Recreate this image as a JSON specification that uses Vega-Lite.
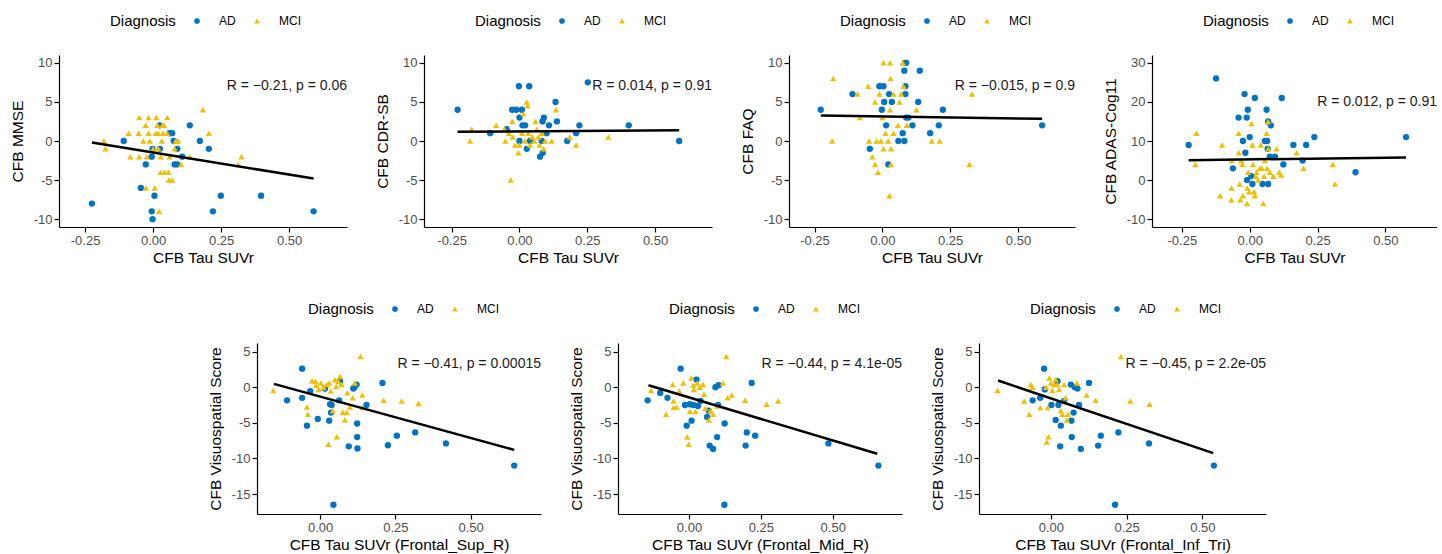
{
"$schema":"https://vega.github.io/schema/vega-lite/v6.json",
"padding":{"left":10,"top":15,"right":0,"bottom":0},
"config":{
 "font":"Liberation Sans",
 "view":{"stroke":null},
 "locale":{"number":{"decimal":".","thousands":",","grouping":[3],"currency":["$",""],"minus":"-"}},
 "axis":{"grid":false,"domainColor":"#000000","domainWidth":1.2,"tickColor":"#000000","tickWidth":1.2,"tickSize":5,"labelFontSize":13,"labelColor":"#4D4D4D","labelPadding":2,"titleFontSize":15.5,"titleFontWeight":"normal","titleColor":"#000000","titlePadding":3},
 "axisY":{"titlePadding":8},
 "legend":{"titleFontSize":15,"titleFontWeight":"normal","titleColor":"#000000","labelFontSize":12,"labelColor":"#000000","symbolSize":32,"labelOffset":16,"columnPadding":15,"titlePadding":15,"symbolStrokeWidth":0}
},
"datasets":{
"p1":[
{"x":-0.225,"y":-8,"Diagnosis":"AD"},{"x":-0.108,"y":0,"Diagnosis":"AD"},{"x":-0.027,"y":-3,"Diagnosis":"AD"},{"x":-0.045,"y":-6,"Diagnosis":"AD"},{"x":-0.005,"y":-2,"Diagnosis":"AD"},{"x":-0.002,"y":-1,"Diagnosis":"AD"},{"x":0.005,"y":-7,"Diagnosis":"AD"},{"x":-0.005,"y":-9,"Diagnosis":"AD"},{"x":-0.002,"y":-10,"Diagnosis":"AD"},{"x":0.024,"y":2,"Diagnosis":"AD"},{"x":0.025,"y":-1,"Diagnosis":"AD"},{"x":0.06,"y":1,"Diagnosis":"AD"},{"x":0.07,"y":1,"Diagnosis":"AD"},{"x":0.076,"y":0,"Diagnosis":"AD"},{"x":0.079,"y":-3,"Diagnosis":"AD"},{"x":0.089,"y":-3,"Diagnosis":"AD"},{"x":0.107,"y":-2,"Diagnosis":"AD"},{"x":0.135,"y":2,"Diagnosis":"AD"},{"x":0.172,"y":0,"Diagnosis":"AD"},{"x":0.205,"y":-1,"Diagnosis":"AD"},{"x":0.22,"y":-9,"Diagnosis":"AD"},{"x":0.249,"y":-7,"Diagnosis":"AD"},{"x":0.397,"y":-7,"Diagnosis":"AD"},{"x":0.59,"y":-9,"Diagnosis":"AD"},{"x":0.089,"y":-1,"Diagnosis":"AD"},
{"x":-0.181,"y":0,"Diagnosis":"MCI"},{"x":-0.175,"y":-1,"Diagnosis":"MCI"},{"x":-0.09,"y":1,"Diagnosis":"MCI"},{"x":-0.084,"y":-2,"Diagnosis":"MCI"},{"x":-0.051,"y":3,"Diagnosis":"MCI"},{"x":-0.053,"y":1,"Diagnosis":"MCI"},{"x":-0.051,"y":-2,"Diagnosis":"MCI"},{"x":-0.036,"y":0,"Diagnosis":"MCI"},{"x":-0.027,"y":2,"Diagnosis":"MCI"},{"x":-0.023,"y":-2,"Diagnosis":"MCI"},{"x":-0.027,"y":-6,"Diagnosis":"MCI"},{"x":-0.017,"y":3,"Diagnosis":"MCI"},{"x":-0.017,"y":1,"Diagnosis":"MCI"},{"x":-0.012,"y":0,"Diagnosis":"MCI"},{"x":0,"y":-1,"Diagnosis":"MCI"},{"x":0.006,"y":-6,"Diagnosis":"MCI"},{"x":0.012,"y":3,"Diagnosis":"MCI"},{"x":0.01,"y":1,"Diagnosis":"MCI"},{"x":0.016,"y":2,"Diagnosis":"MCI"},{"x":0.019,"y":1,"Diagnosis":"MCI"},{"x":0.019,"y":-1,"Diagnosis":"MCI"},{"x":0.022,"y":-9,"Diagnosis":"MCI"},{"x":0.028,"y":-2,"Diagnosis":"MCI"},{"x":0.028,"y":-4,"Diagnosis":"MCI"},{"x":0.032,"y":0,"Diagnosis":"MCI"},{"x":0.034,"y":2,"Diagnosis":"MCI"},{"x":0.036,"y":1,"Diagnosis":"MCI"},{"x":0.04,"y":2,"Diagnosis":"MCI"},{"x":0.042,"y":-4,"Diagnosis":"MCI"},{"x":0.052,"y":3,"Diagnosis":"MCI"},{"x":0.052,"y":1,"Diagnosis":"MCI"},{"x":0.056,"y":-4,"Diagnosis":"MCI"},{"x":0.061,"y":-2,"Diagnosis":"MCI"},{"x":0.058,"y":-5,"Diagnosis":"MCI"},{"x":0.07,"y":-5,"Diagnosis":"MCI"},{"x":0.079,"y":-1,"Diagnosis":"MCI"},{"x":0.083,"y":0,"Diagnosis":"MCI"},{"x":0.092,"y":0,"Diagnosis":"MCI"},{"x":0.103,"y":-3,"Diagnosis":"MCI"},{"x":0.135,"y":-2,"Diagnosis":"MCI"},{"x":0.183,"y":4,"Diagnosis":"MCI"},{"x":0.205,"y":1,"Diagnosis":"MCI"},{"x":0.313,"y":-3,"Diagnosis":"MCI"},{"x":0.325,"y":-2,"Diagnosis":"MCI"}
],
"p2":[
{"x":-0.228,"y":4,"Diagnosis":"AD"},{"x":-0.108,"y":1,"Diagnosis":"AD"},{"x":-0.047,"y":1.5,"Diagnosis":"AD"},{"x":-0.027,"y":4,"Diagnosis":"AD"},{"x":-0.012,"y":4,"Diagnosis":"AD"},{"x":-0.002,"y":7,"Diagnosis":"AD"},{"x":0,"y":3,"Diagnosis":"AD"},{"x":0,"y":0,"Diagnosis":"AD"},{"x":0.009,"y":4,"Diagnosis":"AD"},{"x":0.011,"y":2,"Diagnosis":"AD"},{"x":0.021,"y":2,"Diagnosis":"AD"},{"x":0.027,"y":-1,"Diagnosis":"AD"},{"x":0.036,"y":7,"Diagnosis":"AD"},{"x":0.039,"y":0,"Diagnosis":"AD"},{"x":0.082,"y":0,"Diagnosis":"AD"},{"x":0.076,"y":-2,"Diagnosis":"AD"},{"x":0.086,"y":-1.5,"Diagnosis":"AD"},{"x":0.085,"y":2.5,"Diagnosis":"AD"},{"x":0.09,"y":3,"Diagnosis":"AD"},{"x":0.109,"y":2,"Diagnosis":"AD"},{"x":0.133,"y":5,"Diagnosis":"AD"},{"x":0.138,"y":2.5,"Diagnosis":"AD"},{"x":0.176,"y":0,"Diagnosis":"AD"},{"x":0.209,"y":1,"Diagnosis":"AD"},{"x":0.221,"y":2,"Diagnosis":"AD"},{"x":0.252,"y":7.5,"Diagnosis":"AD"},{"x":0.403,"y":2,"Diagnosis":"AD"},{"x":0.589,"y":0,"Diagnosis":"AD"},{"x":0.1,"y":1,"Diagnosis":"AD"},
{"x":-0.182,"y":0,"Diagnosis":"MCI"},{"x":-0.176,"y":1.5,"Diagnosis":"MCI"},{"x":-0.086,"y":2,"Diagnosis":"MCI"},{"x":-0.055,"y":1.5,"Diagnosis":"MCI"},{"x":-0.052,"y":0,"Diagnosis":"MCI"},{"x":-0.039,"y":1,"Diagnosis":"MCI"},{"x":-0.032,"y":-5,"Diagnosis":"MCI"},{"x":-0.027,"y":2.5,"Diagnosis":"MCI"},{"x":-0.025,"y":0.5,"Diagnosis":"MCI"},{"x":-0.016,"y":-0.5,"Diagnosis":"MCI"},{"x":-0.004,"y":-1.5,"Diagnosis":"MCI"},{"x":0,"y":-0.5,"Diagnosis":"MCI"},{"x":0.01,"y":1,"Diagnosis":"MCI"},{"x":0.015,"y":3.5,"Diagnosis":"MCI"},{"x":0.021,"y":0,"Diagnosis":"MCI"},{"x":0.027,"y":5,"Diagnosis":"MCI"},{"x":0.03,"y":4.5,"Diagnosis":"MCI"},{"x":0.033,"y":1,"Diagnosis":"MCI"},{"x":0.039,"y":-0.5,"Diagnosis":"MCI"},{"x":0.047,"y":0.5,"Diagnosis":"MCI"},{"x":0.054,"y":0,"Diagnosis":"MCI"},{"x":0.059,"y":2.5,"Diagnosis":"MCI"},{"x":0.064,"y":1.5,"Diagnosis":"MCI"},{"x":0.07,"y":0.5,"Diagnosis":"MCI"},{"x":0.074,"y":-0.5,"Diagnosis":"MCI"},{"x":0.082,"y":1,"Diagnosis":"MCI"},{"x":0.089,"y":-1,"Diagnosis":"MCI"},{"x":0.095,"y":0,"Diagnosis":"MCI"},{"x":0.119,"y":0,"Diagnosis":"MCI"},{"x":0.135,"y":4,"Diagnosis":"MCI"},{"x":0.185,"y":0.5,"Diagnosis":"MCI"},{"x":0.209,"y":-0.5,"Diagnosis":"MCI"},{"x":0.328,"y":0.5,"Diagnosis":"MCI"}
],
"p3":[
{"x":-0.227,"y":4,"Diagnosis":"AD"},{"x":-0.11,"y":6,"Diagnosis":"AD"},{"x":-0.046,"y":-1,"Diagnosis":"AD"},{"x":-0.011,"y":7,"Diagnosis":"AD"},{"x":-0.002,"y":4,"Diagnosis":"AD"},{"x":0.004,"y":7,"Diagnosis":"AD"},{"x":0.007,"y":5,"Diagnosis":"AD"},{"x":0.014,"y":2,"Diagnosis":"AD"},{"x":0.025,"y":6,"Diagnosis":"AD"},{"x":0.022,"y":-3,"Diagnosis":"AD"},{"x":0.035,"y":5,"Diagnosis":"AD"},{"x":0.059,"y":0,"Diagnosis":"AD"},{"x":0.075,"y":1,"Diagnosis":"AD"},{"x":0.081,"y":0,"Diagnosis":"AD"},{"x":0.081,"y":9,"Diagnosis":"AD"},{"x":0.084,"y":10,"Diagnosis":"AD"},{"x":0.088,"y":10,"Diagnosis":"AD"},{"x":0.085,"y":7,"Diagnosis":"AD"},{"x":0.085,"y":6,"Diagnosis":"AD"},{"x":0.088,"y":3,"Diagnosis":"AD"},{"x":0.096,"y":3,"Diagnosis":"AD"},{"x":0.111,"y":2,"Diagnosis":"AD"},{"x":0.132,"y":5,"Diagnosis":"AD"},{"x":0.138,"y":9,"Diagnosis":"AD"},{"x":0.176,"y":1,"Diagnosis":"AD"},{"x":0.208,"y":2,"Diagnosis":"AD"},{"x":0.223,"y":4,"Diagnosis":"AD"},{"x":0.589,"y":2,"Diagnosis":"AD"},
{"x":-0.181,"y":8,"Diagnosis":"MCI"},{"x":-0.185,"y":0,"Diagnosis":"MCI"},{"x":-0.092,"y":6,"Diagnosis":"MCI"},{"x":-0.083,"y":3,"Diagnosis":"MCI"},{"x":-0.052,"y":7,"Diagnosis":"MCI"},{"x":-0.049,"y":0,"Diagnosis":"MCI"},{"x":-0.037,"y":-2,"Diagnosis":"MCI"},{"x":-0.027,"y":-3,"Diagnosis":"MCI"},{"x":-0.027,"y":5,"Diagnosis":"MCI"},{"x":-0.021,"y":0,"Diagnosis":"MCI"},{"x":-0.016,"y":-4,"Diagnosis":"MCI"},{"x":-0.011,"y":6,"Diagnosis":"MCI"},{"x":-0.005,"y":0,"Diagnosis":"MCI"},{"x":0,"y":3,"Diagnosis":"MCI"},{"x":0.004,"y":10,"Diagnosis":"MCI"},{"x":0.004,"y":-1,"Diagnosis":"MCI"},{"x":0.012,"y":1,"Diagnosis":"MCI"},{"x":0.021,"y":0,"Diagnosis":"MCI"},{"x":0.028,"y":10,"Diagnosis":"MCI"},{"x":0.03,"y":8,"Diagnosis":"MCI"},{"x":0.028,"y":4,"Diagnosis":"MCI"},{"x":0.026,"y":-7,"Diagnosis":"MCI"},{"x":0.032,"y":-1,"Diagnosis":"MCI"},{"x":0.032,"y":-3,"Diagnosis":"MCI"},{"x":0.041,"y":1,"Diagnosis":"MCI"},{"x":0.041,"y":6,"Diagnosis":"MCI"},{"x":0.057,"y":2,"Diagnosis":"MCI"},{"x":0.063,"y":5,"Diagnosis":"MCI"},{"x":0.069,"y":6,"Diagnosis":"MCI"},{"x":0.075,"y":10,"Diagnosis":"MCI"},{"x":0.078,"y":7,"Diagnosis":"MCI"},{"x":0.09,"y":2,"Diagnosis":"MCI"},{"x":0.125,"y":4,"Diagnosis":"MCI"},{"x":0.182,"y":0,"Diagnosis":"MCI"},{"x":0.211,"y":0,"Diagnosis":"MCI"},{"x":0.321,"y":-3,"Diagnosis":"MCI"},{"x":0.33,"y":6,"Diagnosis":"MCI"}
],
"p4":[
{"x":-0.225,"y":9,"Diagnosis":"AD"},{"x":-0.124,"y":26,"Diagnosis":"AD"},{"x":-0.062,"y":3,"Diagnosis":"AD"},{"x":-0.041,"y":16,"Diagnosis":"AD"},{"x":-0.025,"y":10,"Diagnosis":"AD"},{"x":-0.019,"y":22,"Diagnosis":"AD"},{"x":-0.016,"y":7,"Diagnosis":"AD"},{"x":-0.011,"y":16,"Diagnosis":"AD"},{"x":-0.01,"y":0,"Diagnosis":"AD"},{"x":-0.007,"y":18,"Diagnosis":"AD"},{"x":0,"y":11,"Diagnosis":"AD"},{"x":0.006,"y":1,"Diagnosis":"AD"},{"x":0.01,"y":-1,"Diagnosis":"AD"},{"x":0.019,"y":21,"Diagnosis":"AD"},{"x":0.047,"y":-1,"Diagnosis":"AD"},{"x":0.056,"y":10,"Diagnosis":"AD"},{"x":0.062,"y":18,"Diagnosis":"AD"},{"x":0.064,"y":10,"Diagnosis":"AD"},{"x":0.066,"y":8,"Diagnosis":"AD"},{"x":0.068,"y":-1,"Diagnosis":"AD"},{"x":0.068,"y":15,"Diagnosis":"AD"},{"x":0.074,"y":6,"Diagnosis":"AD"},{"x":0.078,"y":14,"Diagnosis":"AD"},{"x":0.093,"y":6,"Diagnosis":"AD"},{"x":0.118,"y":21,"Diagnosis":"AD"},{"x":0.124,"y":4,"Diagnosis":"AD"},{"x":0.161,"y":9,"Diagnosis":"AD"},{"x":0.195,"y":5,"Diagnosis":"AD"},{"x":0.208,"y":9,"Diagnosis":"AD"},{"x":0.238,"y":11,"Diagnosis":"AD"},{"x":0.39,"y":2,"Diagnosis":"AD"},{"x":0.576,"y":11,"Diagnosis":"AD"},
{"x":-0.196,"y":12,"Diagnosis":"MCI"},{"x":-0.2,"y":4,"Diagnosis":"MCI"},{"x":-0.109,"y":-4,"Diagnosis":"MCI"},{"x":-0.102,"y":9,"Diagnosis":"MCI"},{"x":-0.068,"y":-5,"Diagnosis":"MCI"},{"x":-0.067,"y":5,"Diagnosis":"MCI"},{"x":-0.067,"y":-2,"Diagnosis":"MCI"},{"x":-0.041,"y":12,"Diagnosis":"MCI"},{"x":-0.04,"y":7,"Diagnosis":"MCI"},{"x":-0.037,"y":-1,"Diagnosis":"MCI"},{"x":-0.035,"y":-5,"Diagnosis":"MCI"},{"x":-0.031,"y":5,"Diagnosis":"MCI"},{"x":-0.027,"y":4,"Diagnosis":"MCI"},{"x":-0.025,"y":-4,"Diagnosis":"MCI"},{"x":-0.01,"y":-6,"Diagnosis":"MCI"},{"x":-0.009,"y":-2,"Diagnosis":"MCI"},{"x":-0.006,"y":2,"Diagnosis":"MCI"},{"x":-0.002,"y":-3,"Diagnosis":"MCI"},{"x":0.006,"y":14.5,"Diagnosis":"MCI"},{"x":0.01,"y":9,"Diagnosis":"MCI"},{"x":0.012,"y":4,"Diagnosis":"MCI"},{"x":0.016,"y":-3,"Diagnosis":"MCI"},{"x":0.019,"y":-4,"Diagnosis":"MCI"},{"x":0.022,"y":1,"Diagnosis":"MCI"},{"x":0.025,"y":2,"Diagnosis":"MCI"},{"x":0.031,"y":0,"Diagnosis":"MCI"},{"x":0.037,"y":3,"Diagnosis":"MCI"},{"x":0.041,"y":9,"Diagnosis":"MCI"},{"x":0.045,"y":3,"Diagnosis":"MCI"},{"x":0.05,"y":-6,"Diagnosis":"MCI"},{"x":0.053,"y":1,"Diagnosis":"MCI"},{"x":0.056,"y":5,"Diagnosis":"MCI"},{"x":0.062,"y":12,"Diagnosis":"MCI"},{"x":0.064,"y":3,"Diagnosis":"MCI"},{"x":0.068,"y":8,"Diagnosis":"MCI"},{"x":0.068,"y":15,"Diagnosis":"MCI"},{"x":0.074,"y":2,"Diagnosis":"MCI"},{"x":0.087,"y":1,"Diagnosis":"MCI"},{"x":0.099,"y":8,"Diagnosis":"MCI"},{"x":0.109,"y":2,"Diagnosis":"MCI"},{"x":0.116,"y":1.3,"Diagnosis":"MCI"},{"x":0.173,"y":7,"Diagnosis":"MCI"},{"x":0.198,"y":3,"Diagnosis":"MCI"},{"x":0.306,"y":4,"Diagnosis":"MCI"},{"x":0.314,"y":-1,"Diagnosis":"MCI"}
],
"p5":[
{"x":-0.11,"y":-1.85,"Diagnosis":"AD"},{"x":-0.06,"y":2.6,"Diagnosis":"AD"},{"x":-0.06,"y":-1.5,"Diagnosis":"AD"},{"x":-0.044,"y":-5.4,"Diagnosis":"AD"},{"x":-0.033,"y":-0.55,"Diagnosis":"AD"},{"x":-0.008,"y":-4.45,"Diagnosis":"AD"},{"x":0.016,"y":-0.2,"Diagnosis":"AD"},{"x":0.03,"y":-4.7,"Diagnosis":"AD"},{"x":0.033,"y":-2.4,"Diagnosis":"AD"},{"x":0.036,"y":-3.56,"Diagnosis":"AD"},{"x":0.038,"y":-2.5,"Diagnosis":"AD"},{"x":0.044,"y":-16.5,"Diagnosis":"AD"},{"x":0.063,"y":-1.85,"Diagnosis":"AD"},{"x":0.066,"y":0.83,"Diagnosis":"AD"},{"x":0.095,"y":-8.3,"Diagnosis":"AD"},{"x":0.11,"y":-0.2,"Diagnosis":"AD"},{"x":0.114,"y":0,"Diagnosis":"AD"},{"x":0.121,"y":0.37,"Diagnosis":"AD"},{"x":0.123,"y":-5.1,"Diagnosis":"AD"},{"x":0.123,"y":-7.0,"Diagnosis":"AD"},{"x":0.124,"y":-8.6,"Diagnosis":"AD"},{"x":0.154,"y":-2.5,"Diagnosis":"AD"},{"x":0.207,"y":0.6,"Diagnosis":"AD"},{"x":0.225,"y":-8.15,"Diagnosis":"AD"},{"x":0.255,"y":-6.8,"Diagnosis":"AD"},{"x":0.316,"y":-6.35,"Diagnosis":"AD"},{"x":0.418,"y":-7.9,"Diagnosis":"AD"},{"x":0.645,"y":-11.0,"Diagnosis":"AD"},
{"x":-0.156,"y":-0.46,"Diagnosis":"MCI"},{"x":-0.044,"y":-2.8,"Diagnosis":"MCI"},{"x":-0.041,"y":-3.8,"Diagnosis":"MCI"},{"x":-0.016,"y":0.83,"Diagnosis":"MCI"},{"x":-0.013,"y":0.28,"Diagnosis":"MCI"},{"x":-0.005,"y":-0.32,"Diagnosis":"MCI"},{"x":0.002,"y":0.6,"Diagnosis":"MCI"},{"x":0.011,"y":0,"Diagnosis":"MCI"},{"x":0.022,"y":0.37,"Diagnosis":"MCI"},{"x":0.027,"y":-8.0,"Diagnosis":"MCI"},{"x":0.03,"y":0.6,"Diagnosis":"MCI"},{"x":0.035,"y":-0.55,"Diagnosis":"MCI"},{"x":0.042,"y":-3.3,"Diagnosis":"MCI"},{"x":0.049,"y":1.06,"Diagnosis":"MCI"},{"x":0.053,"y":0.14,"Diagnosis":"MCI"},{"x":0.055,"y":-6.95,"Diagnosis":"MCI"},{"x":0.06,"y":0.83,"Diagnosis":"MCI"},{"x":0.066,"y":1.5,"Diagnosis":"MCI"},{"x":0.071,"y":0.37,"Diagnosis":"MCI"},{"x":0.075,"y":-3.56,"Diagnosis":"MCI"},{"x":0.082,"y":-4.6,"Diagnosis":"MCI"},{"x":0.088,"y":-3.56,"Diagnosis":"MCI"},{"x":0.09,"y":-0.8,"Diagnosis":"MCI"},{"x":0.099,"y":-2.8,"Diagnosis":"MCI"},{"x":0.108,"y":-1.5,"Diagnosis":"MCI"},{"x":0.115,"y":0.6,"Diagnosis":"MCI"},{"x":0.134,"y":4.3,"Diagnosis":"MCI"},{"x":0.14,"y":-1.1,"Diagnosis":"MCI"},{"x":0.141,"y":-2.87,"Diagnosis":"MCI"},{"x":0.211,"y":-1.85,"Diagnosis":"MCI"},{"x":0.271,"y":-1.94,"Diagnosis":"MCI"},{"x":0.327,"y":-2.3,"Diagnosis":"MCI"},{"x":-0.027,"y":0.9,"Diagnosis":"MCI"}
],
"p6":[
{"x":-0.144,"y":-1.85,"Diagnosis":"AD"},{"x":-0.1,"y":-0.8,"Diagnosis":"AD"},{"x":-0.075,"y":-1.5,"Diagnosis":"AD"},{"x":-0.029,"y":2.6,"Diagnosis":"AD"},{"x":-0.014,"y":-2.5,"Diagnosis":"AD"},{"x":-0.008,"y":-5.4,"Diagnosis":"AD"},{"x":0.003,"y":-2.4,"Diagnosis":"AD"},{"x":0.009,"y":-4.7,"Diagnosis":"AD"},{"x":0.015,"y":-2.5,"Diagnosis":"AD"},{"x":0.026,"y":1.06,"Diagnosis":"AD"},{"x":0.031,"y":-2.64,"Diagnosis":"AD"},{"x":0.04,"y":-1.94,"Diagnosis":"AD"},{"x":0.063,"y":-4.17,"Diagnosis":"AD"},{"x":0.072,"y":-8.2,"Diagnosis":"AD"},{"x":0.084,"y":-8.66,"Diagnosis":"AD"},{"x":0.092,"y":0,"Diagnosis":"AD"},{"x":0.098,"y":-7.0,"Diagnosis":"AD"},{"x":0.101,"y":-2.5,"Diagnosis":"AD"},{"x":0.103,"y":0.28,"Diagnosis":"AD"},{"x":0.124,"y":-5.1,"Diagnosis":"AD"},{"x":0.123,"y":-16.5,"Diagnosis":"AD"},{"x":0.197,"y":-8.2,"Diagnosis":"AD"},{"x":0.201,"y":-6.35,"Diagnosis":"AD"},{"x":0.218,"y":0.6,"Diagnosis":"AD"},{"x":0.23,"y":-6.8,"Diagnosis":"AD"},{"x":0.485,"y":-7.9,"Diagnosis":"AD"},{"x":0.659,"y":-11.0,"Diagnosis":"AD"},{"x":0.069,"y":-3.3,"Diagnosis":"AD"},
{"x":-0.132,"y":-0.46,"Diagnosis":"MCI"},{"x":-0.08,"y":-3.8,"Diagnosis":"MCI"},{"x":-0.057,"y":0.37,"Diagnosis":"MCI"},{"x":-0.054,"y":-1.94,"Diagnosis":"MCI"},{"x":-0.054,"y":-2.87,"Diagnosis":"MCI"},{"x":-0.043,"y":-2.8,"Diagnosis":"MCI"},{"x":-0.034,"y":-0.55,"Diagnosis":"MCI"},{"x":-0.02,"y":0.6,"Diagnosis":"MCI"},{"x":-0.006,"y":-7.0,"Diagnosis":"MCI"},{"x":-0.001,"y":-8.0,"Diagnosis":"MCI"},{"x":0.003,"y":-3.4,"Diagnosis":"MCI"},{"x":0.008,"y":1.3,"Diagnosis":"MCI"},{"x":0.015,"y":0.28,"Diagnosis":"MCI"},{"x":0.017,"y":-0.32,"Diagnosis":"MCI"},{"x":0.023,"y":-3.4,"Diagnosis":"MCI"},{"x":0.029,"y":0.6,"Diagnosis":"MCI"},{"x":0.037,"y":0,"Diagnosis":"MCI"},{"x":0.049,"y":0.37,"Diagnosis":"MCI"},{"x":0.052,"y":-1.0,"Diagnosis":"MCI"},{"x":0.057,"y":-2.96,"Diagnosis":"MCI"},{"x":0.069,"y":-4.6,"Diagnosis":"MCI"},{"x":0.075,"y":-3.3,"Diagnosis":"MCI"},{"x":0.084,"y":-3.8,"Diagnosis":"MCI"},{"x":0.098,"y":-2.64,"Diagnosis":"MCI"},{"x":0.118,"y":0.6,"Diagnosis":"MCI"},{"x":0.13,"y":4.3,"Diagnosis":"MCI"},{"x":0.134,"y":-1.5,"Diagnosis":"MCI"},{"x":0.149,"y":-1.1,"Diagnosis":"MCI"},{"x":0.195,"y":-1.85,"Diagnosis":"MCI"},{"x":0.27,"y":-2.4,"Diagnosis":"MCI"},{"x":0.31,"y":-1.94,"Diagnosis":"MCI"}
],
"p7":[
{"x":-0.06,"y":-1.85,"Diagnosis":"AD"},{"x":-0.022,"y":2.6,"Diagnosis":"AD"},{"x":-0.02,"y":-0.32,"Diagnosis":"AD"},{"x":-0.035,"y":-1.5,"Diagnosis":"AD"},{"x":0.002,"y":-2.5,"Diagnosis":"AD"},{"x":0.016,"y":-4.6,"Diagnosis":"AD"},{"x":0.022,"y":0.83,"Diagnosis":"AD"},{"x":0.025,"y":-2.5,"Diagnosis":"AD"},{"x":0.033,"y":-5.4,"Diagnosis":"AD"},{"x":0.031,"y":-8.3,"Diagnosis":"AD"},{"x":0.044,"y":-1.94,"Diagnosis":"AD"},{"x":0.066,"y":0.37,"Diagnosis":"AD"},{"x":0.068,"y":-4.7,"Diagnosis":"AD"},{"x":0.069,"y":-7.0,"Diagnosis":"AD"},{"x":0.075,"y":-3.56,"Diagnosis":"AD"},{"x":0.079,"y":0,"Diagnosis":"AD"},{"x":0.088,"y":-0.2,"Diagnosis":"AD"},{"x":0.093,"y":-2.5,"Diagnosis":"AD"},{"x":0.099,"y":-8.66,"Diagnosis":"AD"},{"x":0.126,"y":0.6,"Diagnosis":"AD"},{"x":0.156,"y":-8.2,"Diagnosis":"AD"},{"x":0.165,"y":-6.8,"Diagnosis":"AD"},{"x":0.212,"y":-16.5,"Diagnosis":"AD"},{"x":0.223,"y":-6.35,"Diagnosis":"AD"},{"x":0.324,"y":-7.9,"Diagnosis":"AD"},{"x":0.538,"y":-11.0,"Diagnosis":"AD"},
{"x":-0.176,"y":-0.46,"Diagnosis":"MCI"},{"x":-0.088,"y":-1.94,"Diagnosis":"MCI"},{"x":-0.071,"y":-3.8,"Diagnosis":"MCI"},{"x":-0.066,"y":0.37,"Diagnosis":"MCI"},{"x":-0.06,"y":0,"Diagnosis":"MCI"},{"x":-0.035,"y":-2.87,"Diagnosis":"MCI"},{"x":-0.016,"y":0,"Diagnosis":"MCI"},{"x":-0.013,"y":-7.7,"Diagnosis":"MCI"},{"x":-0.008,"y":-6.95,"Diagnosis":"MCI"},{"x":-0.011,"y":-2.87,"Diagnosis":"MCI"},{"x":-0.005,"y":1.3,"Diagnosis":"MCI"},{"x":0,"y":0.6,"Diagnosis":"MCI"},{"x":0.005,"y":-0.46,"Diagnosis":"MCI"},{"x":0.011,"y":0.37,"Diagnosis":"MCI"},{"x":0.016,"y":1.06,"Diagnosis":"MCI"},{"x":0.022,"y":0.37,"Diagnosis":"MCI"},{"x":0.027,"y":-0.32,"Diagnosis":"MCI"},{"x":0.033,"y":-3.3,"Diagnosis":"MCI"},{"x":0.038,"y":-3.8,"Diagnosis":"MCI"},{"x":0.044,"y":0.37,"Diagnosis":"MCI"},{"x":0.049,"y":-1.5,"Diagnosis":"MCI"},{"x":0.053,"y":-4.6,"Diagnosis":"MCI"},{"x":0.057,"y":-3.8,"Diagnosis":"MCI"},{"x":0.086,"y":0.6,"Diagnosis":"MCI"},{"x":0.118,"y":-1.1,"Diagnosis":"MCI"},{"x":0.148,"y":-1.85,"Diagnosis":"MCI"},{"x":0.231,"y":4.3,"Diagnosis":"MCI"},{"x":0.262,"y":-1.94,"Diagnosis":"MCI"},{"x":0.326,"y":-2.4,"Diagnosis":"MCI"}
],
"fits":[
{"panel":1,"x":-0.225,"y":-0.2},{"panel":1,"x":0.59,"y":-4.8},
{"panel":2,"x":-0.228,"y":1.19},{"panel":2,"x":0.589,"y":1.36},
{"panel":3,"x":-0.227,"y":3.26},{"panel":3,"x":0.589,"y":2.84},
{"panel":4,"x":-0.225,"y":5.1},{"panel":4,"x":0.576,"y":5.8},
{"panel":5,"x":-0.154,"y":0.46},{"panel":5,"x":0.645,"y":-8.8},
{"panel":6,"x":-0.141,"y":0.28},{"panel":6,"x":0.655,"y":-9.35},
{"panel":7,"x":-0.174,"y":0.93},{"panel":7,"x":0.536,"y":-9.26}
],
"stats":[
{"panel":1,"x":0.713,"y":7,"label":"R = −0.21, p = 0.06"},
{"panel":2,"x":0.71,"y":7,"label":"R = 0.014, p = 0.91"},
{"panel":3,"x":0.71,"y":7,"label":"R = −0.015, p = 0.9"},
{"panel":4,"x":0.69,"y":20,"label":"R = 0.012, p = 0.91"},
{"panel":5,"x":0.734,"y":3.3,"label":"R = −0.41, p = 0.00015"},
{"panel":6,"x":0.741,"y":3.3,"label":"R = −0.44, p = 4.1e-05"},
{"panel":7,"x":0.71,"y":3.3,"label":"R = −0.45, p = 2.2e-05"}
]
},
"spacing":37,
"resolve":{"scale":{"x":"independent","y":"independent","color":"independent","shape":"independent"},"axis":{"x":"independent","y":"independent"},"legend":{"color":"independent","shape":"independent"}},
"vconcat":[
{"spacing":28,
 "resolve":{"scale":{"x":"independent","y":"independent","color":"independent","shape":"independent"},"axis":{"x":"independent","y":"independent"},"legend":{"color":"independent","shape":"independent"}},
 "hconcat":[
{"width":288,"height":172,
 "encoding":{"x":{"field":"x","type":"quantitative","title":"CFB Tau SUVr","scale":{"domain":[-0.346,0.713],"nice":false,"zero":false},"axis":{"values":[-0.25,0,0.25,0.5],"format":".2f"}},
  "y":{"field":"y","type":"quantitative","title":"CFB MMSE","scale":{"domain":[-11,11],"nice":false,"zero":false},"axis":{"values":[-10,-5,0,5,10]}}},
 "layer":[
  {"data":{"name":"p1"},"mark":{"type":"point","filled":true,"opacity":1,"size":40},
   "encoding":{"color":{"field":"Diagnosis","type":"nominal","scale":{"domain":["AD","MCI"],"range":["#0073C2","#EFC000"]},"legend":{"orient":"none","legendX":51,"legendY":-40,"direction":"horizontal","title":"Diagnosis","titleOrient":"left"}},
    "shape":{"field":"Diagnosis","type":"nominal","scale":{"domain":["AD","MCI"],"range":["circle","triangle-up"]},"legend":{"orient":"none","legendX":51,"legendY":-40,"direction":"horizontal","title":"Diagnosis","titleOrient":"left"}}}},
  {"data":{"name":"fits"},"transform":[{"filter":"datum.panel == 1"}],"mark":{"type":"line","color":"#000000","strokeWidth":2.5},"encoding":{}},
  {"data":{"name":"stats"},"transform":[{"filter":"datum.panel == 1"}],"mark":{"type":"text","align":"right","baseline":"middle","fontSize":14,"color":"#1a1a1a"},"encoding":{"text":{"field":"label"}}}
 ]},
{"width":288,"height":172,
 "encoding":{"x":{"field":"x","type":"quantitative","title":"CFB Tau SUVr","scale":{"domain":[-0.352,0.71],"nice":false,"zero":false},"axis":{"values":[-0.25,0,0.25,0.5],"format":".2f"}},
  "y":{"field":"y","type":"quantitative","title":"CFB CDR-SB","scale":{"domain":[-11,11],"nice":false,"zero":false},"axis":{"values":[-10,-5,0,5,10]}}},
 "layer":[
  {"data":{"name":"p2"},"mark":{"type":"point","filled":true,"opacity":1,"size":40},
   "encoding":{"color":{"field":"Diagnosis","type":"nominal","scale":{"domain":["AD","MCI"],"range":["#0073C2","#EFC000"]},"legend":{"orient":"none","legendX":51,"legendY":-40,"direction":"horizontal","title":"Diagnosis","titleOrient":"left"}},
    "shape":{"field":"Diagnosis","type":"nominal","scale":{"domain":["AD","MCI"],"range":["circle","triangle-up"]},"legend":{"orient":"none","legendX":51,"legendY":-40,"direction":"horizontal","title":"Diagnosis","titleOrient":"left"}}}},
  {"data":{"name":"fits"},"transform":[{"filter":"datum.panel == 2"}],"mark":{"type":"line","color":"#000000","strokeWidth":2.5},"encoding":{}},
  {"data":{"name":"stats"},"transform":[{"filter":"datum.panel == 2"}],"mark":{"type":"text","align":"right","baseline":"middle","fontSize":14,"color":"#1a1a1a"},"encoding":{"text":{"field":"label"}}}
 ]},
{"width":286,"height":172,
 "encoding":{"x":{"field":"x","type":"quantitative","title":"CFB Tau SUVr","scale":{"domain":[-0.344,0.71],"nice":false,"zero":false},"axis":{"values":[-0.25,0,0.25,0.5],"format":".2f"}},
  "y":{"field":"y","type":"quantitative","title":"CFB FAQ","scale":{"domain":[-11,11],"nice":false,"zero":false},"axis":{"values":[-10,-5,0,5,10]}}},
 "layer":[
  {"data":{"name":"p3"},"mark":{"type":"point","filled":true,"opacity":1,"size":40},
   "encoding":{"color":{"field":"Diagnosis","type":"nominal","scale":{"domain":["AD","MCI"],"range":["#0073C2","#EFC000"]},"legend":{"orient":"none","legendX":51,"legendY":-40,"direction":"horizontal","title":"Diagnosis","titleOrient":"left"}},
    "shape":{"field":"Diagnosis","type":"nominal","scale":{"domain":["AD","MCI"],"range":["circle","triangle-up"]},"legend":{"orient":"none","legendX":51,"legendY":-40,"direction":"horizontal","title":"Diagnosis","titleOrient":"left"}}}},
  {"data":{"name":"fits"},"transform":[{"filter":"datum.panel == 3"}],"mark":{"type":"line","color":"#000000","strokeWidth":2.5},"encoding":{}},
  {"data":{"name":"stats"},"transform":[{"filter":"datum.panel == 3"}],"mark":{"type":"text","align":"right","baseline":"middle","fontSize":14,"color":"#1a1a1a"},"encoding":{"text":{"field":"label"}}}
 ]},
{"width":285,"height":172,
 "encoding":{"x":{"field":"x","type":"quantitative","title":"CFB Tau SUVr","scale":{"domain":[-0.36,0.69],"nice":false,"zero":false},"axis":{"values":[-0.25,0,0.25,0.5],"format":".2f"}},
  "y":{"field":"y","type":"quantitative","title":"CFB ADAS-Cog11","scale":{"domain":[-12,32],"nice":false,"zero":false},"axis":{"values":[-10,0,10,20,30]}}},
 "layer":[
  {"data":{"name":"p4"},"mark":{"type":"point","filled":true,"opacity":1,"size":40},
   "encoding":{"color":{"field":"Diagnosis","type":"nominal","scale":{"domain":["AD","MCI"],"range":["#0073C2","#EFC000"]},"legend":{"orient":"none","legendX":51,"legendY":-40,"direction":"horizontal","title":"Diagnosis","titleOrient":"left"}},
    "shape":{"field":"Diagnosis","type":"nominal","scale":{"domain":["AD","MCI"],"range":["circle","triangle-up"]},"legend":{"orient":"none","legendX":51,"legendY":-40,"direction":"horizontal","title":"Diagnosis","titleOrient":"left"}}}},
  {"data":{"name":"fits"},"transform":[{"filter":"datum.panel == 4"}],"mark":{"type":"line","color":"#000000","strokeWidth":2.5},"encoding":{}},
  {"data":{"name":"stats"},"transform":[{"filter":"datum.panel == 4"}],"mark":{"type":"text","align":"right","baseline":"middle","fontSize":14,"color":"#1a1a1a"},"encoding":{"text":{"field":"label"}}}
 ]}
 ]},
{"spacing":28,
 "resolve":{"scale":{"x":"independent","y":"independent","color":"independent","shape":"independent"},"axis":{"x":"independent","y":"independent"},"legend":{"color":"independent","shape":"independent"}},
 "hconcat":[
{"width":121,"height":171,"data":{"values":[]},"mark":{"type":"point","opacity":0}},
{"width":284,"height":171,
 "encoding":{"x":{"field":"x","type":"quantitative","title":"CFB Tau SUVr (Frontal_Sup_R)","scale":{"domain":[-0.21,0.734],"nice":false,"zero":false},"axis":{"values":[0,0.25,0.5],"format":".2f"}},
  "y":{"field":"y","type":"quantitative","title":"CFB Visuospatial Score","scale":{"domain":[-17.8,6.2],"nice":false,"zero":false},"axis":{"values":[-15,-10,-5,0,5]}}},
 "layer":[
  {"data":{"name":"p5"},"mark":{"type":"point","filled":true,"opacity":1,"size":40},
   "encoding":{"color":{"field":"Diagnosis","type":"nominal","scale":{"domain":["AD","MCI"],"range":["#0073C2","#EFC000"]},"legend":{"orient":"none","legendX":51,"legendY":-40,"direction":"horizontal","title":"Diagnosis","titleOrient":"left"}},
    "shape":{"field":"Diagnosis","type":"nominal","scale":{"domain":["AD","MCI"],"range":["circle","triangle-up"]},"legend":{"orient":"none","legendX":51,"legendY":-40,"direction":"horizontal","title":"Diagnosis","titleOrient":"left"}}}},
  {"data":{"name":"fits"},"transform":[{"filter":"datum.panel == 5"}],"mark":{"type":"line","color":"#000000","strokeWidth":2.5},"encoding":{}},
  {"data":{"name":"stats"},"transform":[{"filter":"datum.panel == 5"}],"mark":{"type":"text","align":"right","baseline":"middle","fontSize":14,"color":"#1a1a1a"},"encoding":{"text":{"field":"label"}}}
 ]},
{"width":284,"height":171,
 "encoding":{"x":{"field":"x","type":"quantitative","title":"CFB Tau SUVr (Frontal_Mid_R)","scale":{"domain":[-0.247,0.741],"nice":false,"zero":false},"axis":{"values":[0,0.25,0.5],"format":".2f"}},
  "y":{"field":"y","type":"quantitative","title":"CFB Visuospatial Score","scale":{"domain":[-17.8,6.2],"nice":false,"zero":false},"axis":{"values":[-15,-10,-5,0,5]}}},
 "layer":[
  {"data":{"name":"p6"},"mark":{"type":"point","filled":true,"opacity":1,"size":40},
   "encoding":{"color":{"field":"Diagnosis","type":"nominal","scale":{"domain":["AD","MCI"],"range":["#0073C2","#EFC000"]},"legend":{"orient":"none","legendX":51,"legendY":-40,"direction":"horizontal","title":"Diagnosis","titleOrient":"left"}},
    "shape":{"field":"Diagnosis","type":"nominal","scale":{"domain":["AD","MCI"],"range":["circle","triangle-up"]},"legend":{"orient":"none","legendX":51,"legendY":-40,"direction":"horizontal","title":"Diagnosis","titleOrient":"left"}}}},
  {"data":{"name":"fits"},"transform":[{"filter":"datum.panel == 6"}],"mark":{"type":"line","color":"#000000","strokeWidth":2.5},"encoding":{}},
  {"data":{"name":"stats"},"transform":[{"filter":"datum.panel == 6"}],"mark":{"type":"text","align":"right","baseline":"middle","fontSize":14,"color":"#1a1a1a"},"encoding":{"text":{"field":"label"}}}
 ]},
{"width":287,"height":171,
 "encoding":{"x":{"field":"x","type":"quantitative","title":"CFB Tau SUVr (Frontal_Inf_Tri)","scale":{"domain":[-0.237,0.71],"nice":false,"zero":false},"axis":{"values":[0,0.25,0.5],"format":".2f"}},
  "y":{"field":"y","type":"quantitative","title":"CFB Visuospatial Score","scale":{"domain":[-17.8,6.2],"nice":false,"zero":false},"axis":{"values":[-15,-10,-5,0,5]}}},
 "layer":[
  {"data":{"name":"p7"},"mark":{"type":"point","filled":true,"opacity":1,"size":40},
   "encoding":{"color":{"field":"Diagnosis","type":"nominal","scale":{"domain":["AD","MCI"],"range":["#0073C2","#EFC000"]},"legend":{"orient":"none","legendX":51,"legendY":-40,"direction":"horizontal","title":"Diagnosis","titleOrient":"left"}},
    "shape":{"field":"Diagnosis","type":"nominal","scale":{"domain":["AD","MCI"],"range":["circle","triangle-up"]},"legend":{"orient":"none","legendX":51,"legendY":-40,"direction":"horizontal","title":"Diagnosis","titleOrient":"left"}}}},
  {"data":{"name":"fits"},"transform":[{"filter":"datum.panel == 7"}],"mark":{"type":"line","color":"#000000","strokeWidth":2.5},"encoding":{}},
  {"data":{"name":"stats"},"transform":[{"filter":"datum.panel == 7"}],"mark":{"type":"text","align":"right","baseline":"middle","fontSize":14,"color":"#1a1a1a"},"encoding":{"text":{"field":"label"}}}
 ]}
 ]}
]
}
